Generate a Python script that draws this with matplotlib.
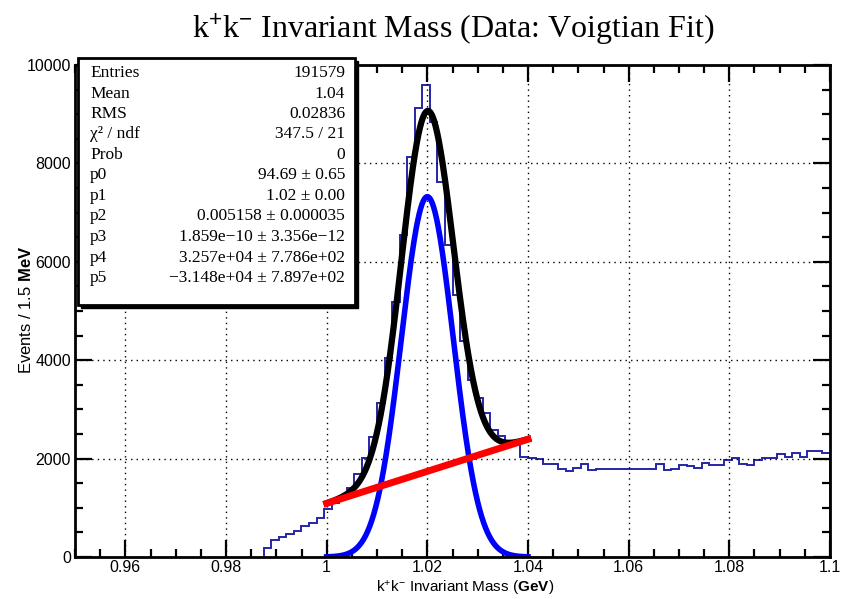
import numpy as np
import matplotlib.pyplot as plt
from matplotlib.patches import Rectangle
from matplotlib.ticker import MultipleLocator

plt.rcParams['font.family'] = ['Liberation Sans', 'DejaVu Sans']
plt.rcParams['mathtext.fontset'] = 'custom'
plt.rcParams['mathtext.rm'] = 'Liberation Sans'
plt.rcParams['mathtext.bf'] = 'Liberation Sans:bold'
plt.rcParams['mathtext.it'] = 'Liberation Sans:italic'

## Histogram: 1.5 MeV bins, first filled bin starts at 0.9875 GeV
first_edge = 0.9875
bin_width = 0.0015
counts = [
    180, 340, 410, 470, 520, 620, 690, 800, 980, 1100,
    1220, 1400, 1690, 2010, 2440, 3130, 4050, 5190, 6550, 8130,
    9120, 9600, 8850, 7630, 6340, 5330, 4400, 3600, 3230, 2920,
    2580, 2450, 2330, 2350, 2040, 2010, 2000, 1890, 1890, 1780,
    1755, 1800, 1890, 1770, 1780, 1780, 1780, 1780, 1780, 1780,
    1780, 1780, 1900, 1770, 1780, 1870, 1840, 1800, 1915, 1870,
    1870, 1970, 2005, 1900, 1870, 1970, 2005, 2005, 2090, 2040,
    2120, 2030, 2160, 2160, 2120,
]

## Fit parameters (stats box): Voigt(p0, p1, p2, p3) + p4*x + p5
p0, p1, p2, p3 = 94.69, 1.02, 0.005158, 1.859e-10
p4, p5 = 3.257e4, -3.148e4
fit_range = (1.0, 1.04)

stat_names = ["Entries", "Mean", "RMS", "χ² / ndf", "Prob",
              "p0", "p1", "p2", "p3", "p4", "p5"]
stat_values = ["191579", "1.04", "0.02836", "347.5 / 21", "0",
               "94.69 ± 0.65", "1.02 ± 0.00", "0.005158 ± 0.000035",
               "1.859e−10 ± 3.356e−12", "3.257e+04 ± 7.786e+02",
               "−3.148e+04 ± 7.897e+02"]

edges = first_edge + bin_width * np.arange(len(counts) + 1)

# Lorentz width p3 is ~0, so the Voigt profile reduces to its Gaussian core
x = np.linspace(fit_range[0], fit_range[1], 400)
signal = p0 * np.exp(-0.5 * ((x - p1) / p2) ** 2) / (np.sqrt(2 * np.pi) * p2)
background = p4 * x + p5

W, H = 842, 599
fig = plt.figure(figsize=(W / 100, H / 100), dpi=100)
ax = fig.add_axes([75 / W, 1 - 557 / H, 755 / W, 492 / H])

ax.stairs(counts, edges, baseline=0, color='#2626a6', lw=1.4)
ax.plot(x, signal, color='#0000ff', lw=4)
ax.plot(x, signal + background, color='black', lw=4.5)
ax.plot(x, background, color='#ff0000', lw=5)

ax.set_xlim(0.95, 1.1)
ax.set_ylim(0, 10000)
ax.xaxis.set_major_locator(MultipleLocator(0.02))
ax.xaxis.set_minor_locator(MultipleLocator(0.005))
ax.yaxis.set_major_locator(MultipleLocator(2000))
ax.yaxis.set_minor_locator(MultipleLocator(500))
ax.xaxis.set_major_formatter(plt.FuncFormatter(lambda v, p: f"{v:g}"))
ax.grid(True, which='major', color='black', linestyle=(0, (1, 3)), lw=1)
ax.tick_params(which='both', direction='in', top=True, right=True, width=1.6, labelsize=11.5)
ax.tick_params(which='major', length=12)
ax.tick_params(which='minor', length=6)
ax.tick_params(axis='x', pad=2)
ax.tick_params(axis='y', pad=3)
for s in ax.spines.values():
    s.set_linewidth(2)

fig.text(453 / W, 1 - 30 / H, 'k$^{+}$k$^{-}$ Invariant Mass (Data: Voigtian Fit)',
         ha='center', va='center', family=['Liberation Serif', 'DejaVu Serif'], fontsize=23)
fig.text(465 / W, 1 - 588 / H, r'k$^{+}$k$^{-}$ Invariant Mass ($\mathbf{GeV}$)',
         ha='center', va='center', fontsize=11)
fig.text(26 / W, 1 - 310 / H, r'Events / 1.5 $\mathbf{MeV}$',
         ha='center', va='center', rotation=90, fontsize=12)

# stats box with drop shadow
bx0, by0, bx1, by1 = 78, 58, 355, 305
fig.patches.append(Rectangle(((bx0 + 3) / W, 1 - (by1 + 3) / H), (bx1 - bx0) / W, (by1 - by0) / H,
                             transform=fig.transFigure, facecolor='black', edgecolor='black', zorder=5))
fig.patches.append(Rectangle((bx0 / W, 1 - by1 / H), (bx1 - bx0) / W, (by1 - by0) / H,
                             transform=fig.transFigure, facecolor='white', edgecolor='black',
                             lw=2, zorder=6))
for i, (name, val) in enumerate(zip(stat_names, stat_values)):
    yy = 1 - (73 + i * 20.5) / H
    fig.text(90 / W, yy, name, ha='left', va='center', fontsize=12.5,
             family=['Liberation Serif', 'DejaVu Serif'], zorder=7)
    fig.text(345 / W, yy, val, ha='right', va='center', fontsize=12.5,
             family=['Liberation Serif', 'DejaVu Serif'], zorder=7)

fig.savefig('out.png', dpi=100)
